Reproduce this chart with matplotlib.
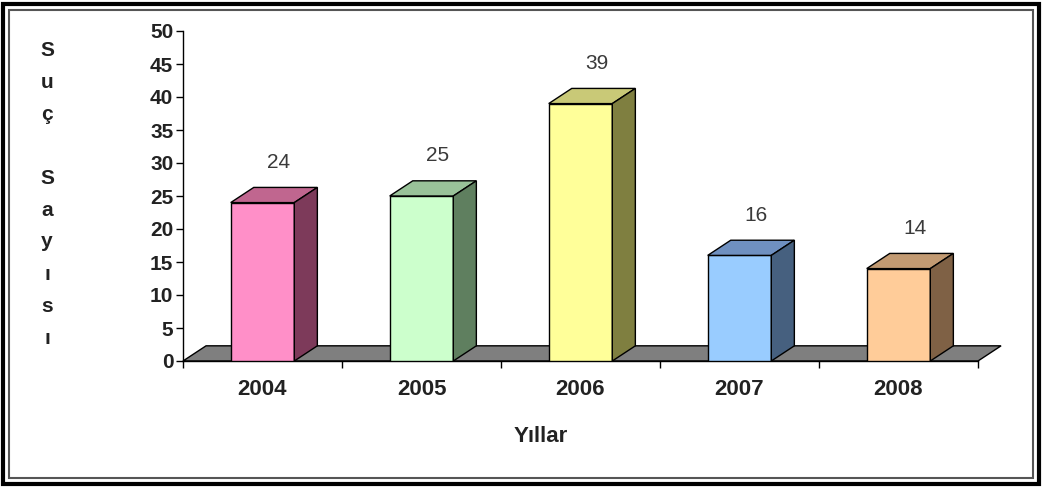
import matplotlib
matplotlib.use("Agg")
import matplotlib.pyplot as plt
from matplotlib.patches import Polygon, Rectangle

plt.rcParams['font.family'] = ['Liberation Sans', 'DejaVu Sans']

years = ['2004', '2005', '2006', '2007', '2008']
counts = [24, 25, 39, 16, 14]
front_colors = ['#ff8fc8', '#ccffcc', '#ffff99', '#99ccff', '#ffcc99']
top_colors = ['#c0668f', '#99c299', '#c9c977', '#6f90c0', '#c29a72']
side_colors = ['#7d3a5a', '#5f7f5f', '#7f7f40', '#46607f', '#7f6145']
ylabel_chars = list('Suç Sayısı')

W, H = 1042, 487
fig = plt.figure(figsize=(W / 100, H / 100), dpi=100)
fig.patch.set_facecolor('white')
ax = fig.add_axes([183 / W, 1 - 361 / H, (978 - 183) / W, (361 - 31) / H])

# depth of the fake 3d effect, in data units
dx, dy = 0.145, 2.3
bw = 0.4
n = len(years)

# floor
floor = Polygon([(-0.5, 0), (n - 0.5, 0), (n - 0.5 + dx, dy), (-0.5 + dx, dy)],
                closed=True, facecolor='#7f7f7f', edgecolor='black', lw=1,
                clip_on=False, zorder=1)
ax.add_patch(floor)

for i, v in enumerate(counts):
    x0, x1 = i - bw / 2, i + bw / 2
    ax.bar(i, v, width=bw, color=front_colors[i], edgecolor='black', lw=1, zorder=3)
    top = Polygon([(x0, v), (x1, v), (x1 + dx, v + dy), (x0 + dx, v + dy)],
                  closed=True, facecolor=top_colors[i], edgecolor='black', lw=1, zorder=3)
    side = Polygon([(x1, 0), (x1 + dx, dy), (x1 + dx, v + dy), (x1, v)],
                   closed=True, facecolor=side_colors[i], edgecolor='black', lw=1, zorder=3)
    ax.add_patch(top)
    ax.add_patch(side)
    ax.text(i + dx / 2 + 0.03, v + dy + 3.8, str(v), ha='center', va='center',
            fontsize=15, color='#3a3a3a')

ax.set_xlim(-0.5, n - 0.5)
ax.set_ylim(0, 50)
ax.set_yticks(range(0, 51, 5))
ax.set_xticks(range(n))
ax.set_xticklabels(years, fontsize=16, fontweight='bold', color='#222222')
ax.set_xticks([i - 0.5 for i in range(n + 1)], minor=True)
ax.tick_params(axis='x', which='major', length=0, pad=13)
ax.tick_params(axis='x', which='minor', length=5, direction='out', width=1)
ax.tick_params(axis='y', length=5, direction='out', width=1, labelsize=15, pad=2)
for lab in ax.get_yticklabels():
    lab.set_fontweight('bold')
    lab.set_color('#222222')

for s in ['top', 'right']:
    ax.spines[s].set_visible(False)
ax.spines['left'].set_linewidth(1)
ax.spines['bottom'].set_linewidth(1)
ax.patch.set_alpha(0)

# vertical y label, one letter per line
for k, ch in enumerate(ylabel_chars):
    fig.text(47 / W, 1 - (50 + 32 * k) / H, ch, ha='center', va='center',
             fontsize=15, fontweight='bold', color='#222222')

fig.text(541 / W, 1 - 437 / H, 'Yıllar', ha='center', va='center',
         fontsize=16, fontweight='bold', color='#222222')

# double frame around the picture
fig.patches.append(Rectangle((3 / W, 3 / H), 1 - 6 / W, 1 - 7 / H, transform=fig.transFigure,
                             fill=False, edgecolor='black', lw=3))
fig.patches.append(Rectangle((9 / W, 9 / H), 1 - 18 / W, 1 - 19 / H, transform=fig.transFigure,
                             fill=False, edgecolor='#555555', lw=1.5))

fig.savefig('out.png', dpi=100)
